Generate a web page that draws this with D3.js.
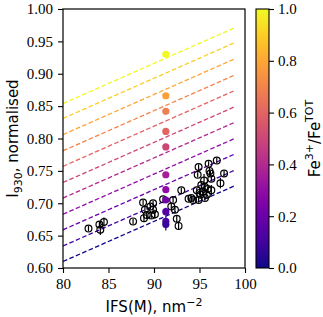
<!DOCTYPE html>
<html>
<head>
<meta charset="utf-8">
<script src="https://cdn.jsdelivr.net/npm/d3@7"></script>
<style>
  body { margin: 0; background: #fff; }
  svg { display: block; }
</style>
</head>
<body>
<div id="container"></div>
<script>
// model lines: one per Fe3+/FeTOT fraction, value at IFS = 80 and common slope
const lineFe = [0.0, 0.1, 0.2, 0.3, 0.4, 0.5, 0.6, 0.7, 0.8, 0.9, 1.0]
const lineStart = [0.610, 0.634, 0.659, 0.683, 0.708, 0.732, 0.757, 0.781, 0.806, 0.831, 0.854]
const lineSlope = 0.0062
const lineX = [80, 99]

// reference glasses (coloured by Fe3+/FeTOT)
const refIfs = [91.3, 91.3, 91.3, 91.3, 91.3, 91.3, 91.3, 91.3, 91.3, 91.3, 91.3]
const refI = [0.930, 0.866, 0.842, 0.811, 0.787, 0.744, 0.721, 0.705, 0.687, 0.672, 0.667]
const refFe = [1.0, 0.78, 0.68, 0.6, 0.5, 0.36, 0.3, 0.22, 0.15, 0.12, 0.08]
const refErr = [0.003, 0.003, 0.003, 0.003, 0.003, 0.003, 0.004, 0.004, 0.006, 0.008, 0.009]

// samples (black open circles)
const sampIfs = [82.8, 84.0, 84.1, 84.5, 87.7, 88.8, 89.0, 89.2, 88.9, 89.6, 89.7, 89.9, 89.9, 90.1,
    91.0, 91.9, 92.1, 92.3, 92.5, 92.7, 93.0, 93.8, 94.1, 94.3, 94.7, 94.8, 94.9, 94.9, 95.1,
    95.2, 95.4, 95.5, 95.6, 95.6, 95.8, 96.0, 96.1, 96.2, 96.3, 96.3, 96.9, 97.3, 97.7, 95.9, 95.0]
const sampI = [0.661, 0.667, 0.659, 0.671, 0.672, 0.701, 0.690, 0.682, 0.677, 0.695, 0.681, 0.690, 0.700, 0.683,
    0.706, 0.695, 0.705, 0.690, 0.676, 0.665, 0.720, 0.707, 0.708, 0.705, 0.720, 0.744, 0.756, 0.705, 0.713,
    0.728, 0.718, 0.735, 0.725, 0.708, 0.713, 0.761, 0.750, 0.746, 0.738, 0.720, 0.766, 0.731, 0.746, 0.722, 0.716]
const sampErr = [0.004, 0.005, 0.008, 0.007, 0.004, 0.004, 0.005, 0.006, 0.006, 0.004, 0.004, 0.004, 0.004, 0.007,
    0.004, 0.004, 0.004, 0.005, 0.005, 0.006, 0.004, 0.004, 0.004, 0.004, 0.004, 0.004, 0.004, 0.004, 0.005,
    0.006, 0.005, 0.010, 0.005, 0.004, 0.004, 0.004, 0.005, 0.004, 0.004, 0.008, 0.004, 0.008, 0.004, 0.004, 0.004]

const xTicks = [80, 85, 90, 95, 100]
const yTicks = [0.60, 0.65, 0.70, 0.75, 0.80, 0.85, 0.90, 0.95, 1.00]
const cTicks = [0.0, 0.2, 0.4, 0.6, 0.8, 1.0]

const W = 323, H = 317
const plot = { left: 63, right: 245, top: 9, bottom: 268 }
const cbar = { left: 256, right: 269 }

const serif = "'Liberation Serif', 'DejaVu Serif', serif"
const sans = "'DejaVu Sans', sans-serif"

const svg = d3.select("#container").append("svg")
    .attr("width", W)
    .attr("height", H)

const xScale = d3.scaleLinear().domain([80, 100]).range([plot.left, plot.right])
const yScale = d3.scaleLinear().domain([0.6, 1.0]).range([plot.bottom, plot.top])
const color = d3.interpolatePlasma

// clip for the plotting area
svg.append("clipPath").attr("id", "clip")
    .append("rect")
    .attr("x", plot.left).attr("y", plot.top)
    .attr("width", plot.right - plot.left)
    .attr("height", plot.bottom - plot.top)

const g = svg.append("g").attr("clip-path", "url(#clip)")

// dashed model lines
const line = d3.line()
    .x(d => xScale(d[0]))
    .y(d => yScale(d[1]))

lineFe.forEach((fe, i) => {
    let pts = lineX.map(x => [x, lineStart[i] + lineSlope * (x - 80)])
    g.append("path")
        .attr("d", line(pts))
        .attr("fill", "none")
        .attr("stroke", color(fe))
        .attr("stroke-width", 1.3)
        .attr("stroke-dasharray", "4.6,2.4")
})

// samples: error bars + open circles
const samples = sampIfs.map((x, i) => ({ x: x, y: sampI[i], e: sampErr[i] }))

g.selectAll(".samp-err")
    .data(samples)
    .enter()
    .append("line")
    .attr("x1", d => xScale(d.x)).attr("x2", d => xScale(d.x))
    .attr("y1", d => yScale(d.y - d.e)).attr("y2", d => yScale(d.y + d.e))
    .attr("stroke", "black")
    .attr("stroke-width", 1.2)

g.selectAll(".samp")
    .data(samples)
    .enter()
    .append("circle")
    .attr("cx", d => xScale(d.x))
    .attr("cy", d => yScale(d.y))
    .attr("r", 3.4)
    .attr("fill", "none")
    .attr("stroke", "black")
    .attr("stroke-width", 1.2)

// reference glasses: coloured filled points
const refs = refIfs.map((x, i) => ({ x: x, y: refI[i], fe: refFe[i], e: refErr[i] }))

g.selectAll(".ref-err")
    .data(refs)
    .enter()
    .append("line")
    .attr("x1", d => xScale(d.x)).attr("x2", d => xScale(d.x))
    .attr("y1", d => yScale(d.y - d.e)).attr("y2", d => yScale(d.y + d.e))
    .attr("stroke", d => color(d.fe))
    .attr("stroke-width", 1.3)

g.selectAll(".ref")
    .data(refs)
    .enter()
    .append("circle")
    .attr("cx", d => xScale(d.x))
    .attr("cy", d => yScale(d.y))
    .attr("r", 3.6)
    .attr("fill", d => color(d.fe))

// axes
const xAxis = svg.append("g")
    .attr("transform", "translate(0," + plot.bottom + ")")
    .call(d3.axisBottom(xScale).tickValues(xTicks).tickFormat(d3.format("d")).tickSize(5).tickPadding(5))

const yAxis = svg.append("g")
    .attr("transform", "translate(" + plot.left + ",0)")
    .call(d3.axisLeft(yScale).tickValues(yTicks).tickFormat(d3.format(".2f")).tickSize(5).tickPadding(5))

;[xAxis, yAxis].forEach(a => {
    a.select(".domain").remove()
    a.selectAll(".tick line").attr("stroke", "black").attr("stroke-width", 1.1)
    a.selectAll(".tick text")
        .style("font-family", serif)
        .style("font-size", "15px")
        .attr("fill", "black")
})

// frame
svg.append("rect")
    .attr("x", plot.left).attr("y", plot.top)
    .attr("width", plot.right - plot.left)
    .attr("height", plot.bottom - plot.top)
    .attr("fill", "none")
    .attr("stroke", "black")
    .attr("stroke-width", 1.2)

// axis labels
svg.append("text")
    .attr("x", (plot.left + plot.right) / 2)
    .attr("y", 312)
    .attr("text-anchor", "middle")
    .style("font-family", sans)
    .style("font-size", "15px")
    .text("IFS(M), nm")
    .append("tspan")
    .attr("dy", -6)
    .style("font-size", "11px")
    .text("\u22122")

const ylab = svg.append("text")
    .attr("transform", "translate(18," + (plot.top + plot.bottom) / 2 + ") rotate(-90)")
    .attr("text-anchor", "middle")
    .style("font-family", sans)
    .style("font-size", "15px")
ylab.append("tspan").text("I")
ylab.append("tspan").attr("dy", 4).style("font-size", "11px").text("930")
ylab.append("tspan").attr("dy", -4).text(", normalised")

// colorbar
const cScale = d3.scaleLinear().domain([0, 1]).range([plot.bottom, plot.top])

const grad = svg.append("defs").append("linearGradient")
    .attr("id", "plasma")
    .attr("x1", 0).attr("y1", 1).attr("x2", 0).attr("y2", 0)

d3.range(0, 1.0001, 0.05).forEach(t => {
    grad.append("stop")
        .attr("offset", t)
        .attr("stop-color", color(t))
})

svg.append("rect")
    .attr("x", cbar.left).attr("y", plot.top)
    .attr("width", cbar.right - cbar.left)
    .attr("height", plot.bottom - plot.top)
    .attr("fill", "url(#plasma)")
    .attr("stroke", "black")
    .attr("stroke-width", 1.1)

const cAxis = svg.append("g")
    .attr("transform", "translate(" + cbar.right + ",0)")
    .call(d3.axisRight(cScale).tickValues(cTicks).tickFormat(d3.format(".1f")).tickSize(5).tickPadding(4))

cAxis.select(".domain").remove()
cAxis.selectAll(".tick line").attr("stroke", "black").attr("stroke-width", 1.1)
cAxis.selectAll(".tick text")
    .style("font-family", serif)
    .style("font-size", "15px")
    .attr("fill", "black")

const clab = svg.append("text")
    .attr("transform", "translate(320," + (plot.top + plot.bottom) / 2 + ") rotate(-90)")
    .attr("text-anchor", "middle")
    .style("font-family", sans)
    .style("font-size", "15px")
clab.append("tspan").text("Fe")
clab.append("tspan").attr("dy", -7).style("font-size", "11px").text("3+")
clab.append("tspan").attr("dy", 7).text("/Fe")
clab.append("tspan").attr("dy", -7).style("font-size", "11px").text("TOT")
</script>
</body>
</html>
